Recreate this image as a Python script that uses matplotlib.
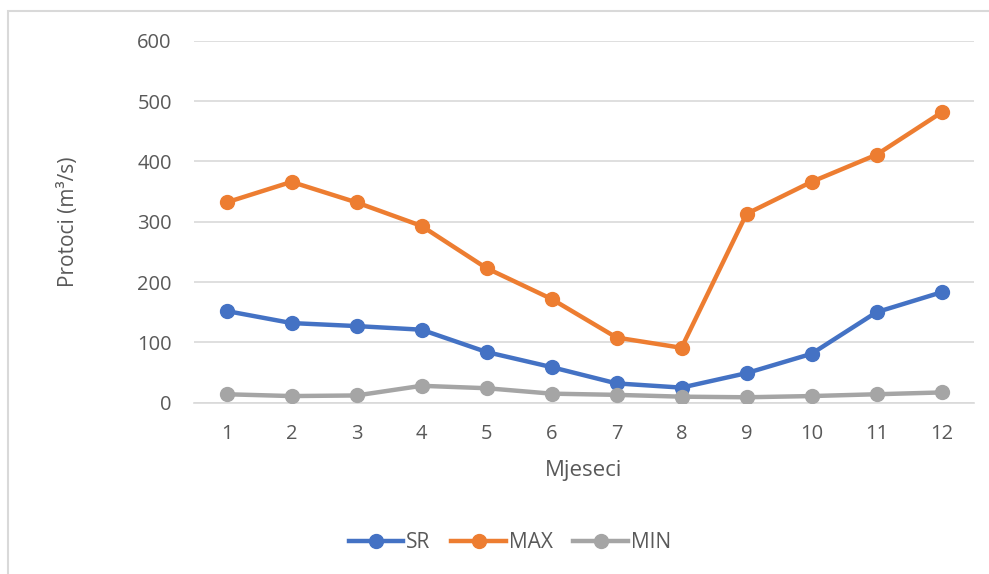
import matplotlib.pyplot as plt
from matplotlib.patches import Rectangle

# data
months = list(range(1, 13))
sr = [152, 132, 127, 121, 84, 59, 32, 25, 49, 81, 150, 183]
mx = [332, 366, 332, 293, 223, 172, 108, 91, 313, 366, 411, 481]
mn = [14, 11, 12, 28, 24, 15, 13, 10, 9, 11, 14, 17]

plt.rcParams['font.family'] = ['Open Sans', 'DejaVu Sans']
txt = '#595959'

fig = plt.figure(figsize=(9.89, 5.74), dpi=100)
# chart area border (cut off on right and bottom like the screenshot)
fig.patches.append(Rectangle((8 / 989, -0.1), 1.2, 1 - 11 / 574 + 0.1,
                             transform=fig.transFigure, fill=False,
                             edgecolor='#D9D9D9', linewidth=1.5))

ax = fig.add_axes([194 / 989, 1 - 402.7 / 574, 780 / 989, 362 / 574])

ax.plot(months, sr, color='#4472C4', lw=3.2, marker='o', ms=10, label='SR', zorder=3)
ax.plot(months, mx, color='#ED7D31', lw=3.2, marker='o', ms=10, label='MAX', zorder=3)
ax.plot(months, mn, color='#A5A5A5', lw=3.2, marker='o', ms=10, label='MIN', zorder=3)

ax.set_xlim(0.5, 12.5)
ax.set_ylim(0, 600)
ax.set_xticks(months)
ax.set_yticks(range(0, 601, 100))
ax.grid(axis='y', color='#D9D9D9', lw=1.2)
ax.set_axisbelow(True)
for s in ['left', 'right', 'top']:
    ax.spines[s].set_visible(False)
ax.spines['bottom'].set_color('#D9D9D9')
ax.spines['bottom'].set_linewidth(1.2)
ax.tick_params(length=0, labelsize=14.5, colors=txt)
ax.tick_params(axis='x', pad=15)
ax.tick_params(axis='y', pad=16)

ax.set_xlabel('Mjeseci', fontsize=16, color=txt, labelpad=12)
ax.set_ylabel('Protoci (m³/s)', fontsize=15, color=txt, labelpad=42)

fig.legend(loc='center', bbox_to_anchor=(510 / 989, 1 - 543 / 574), ncol=3, frameon=False,
           fontsize=15, labelcolor=txt, handlelength=2.6, handletextpad=0.15,
           columnspacing=1.0)

fig.savefig('out.png', dpi=100)
